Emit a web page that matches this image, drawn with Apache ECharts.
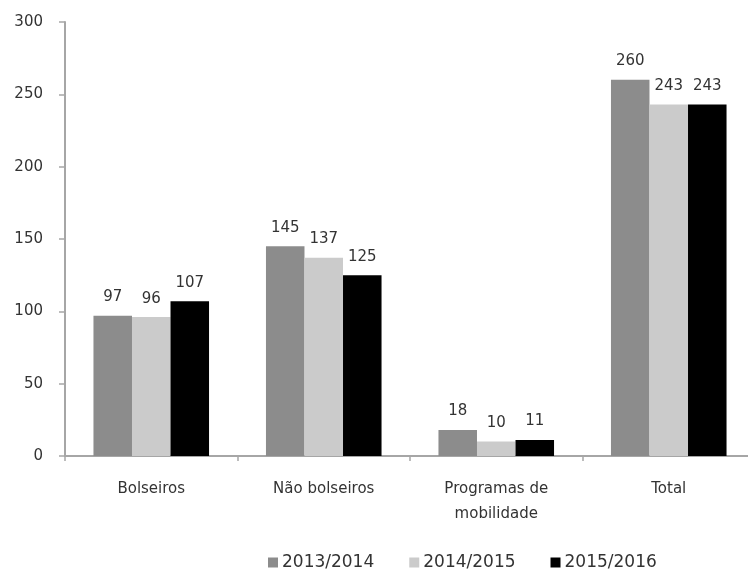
<!DOCTYPE html>
<html>
<head>
<meta charset="utf-8">
<script src="https://cdn.jsdelivr.net/npm/echarts@6/dist/echarts.min.js"></script>
<style>html,body{margin:0;padding:0;background:#fff;overflow:hidden;width:748px;height:571px;}#c{width:755px;height:571px;}</style>
</head>
<body>
<div id="c"></div>
<script>
const categories = ['Bolseiros', 'Não bolseiros', 'Programas de\nmobilidade', 'Total'];
const seriesNames = ['2013/2014', '2014/2015', '2015/2016'];
const s2013 = [97, 145, 18, 260];
const s2014 = [96, 137, 10, 243];
const s2015 = [107, 125, 11, 243];
const yTicks = [0, 50, 100, 150, 200, 250, 300];

const colors = ['#8c8c8c', '#cbcbcb', '#000000'];
const font = 'DejaVu Sans';
const textColor = '#333333';
const axisColor = '#a6a6a6';

const chart = echarts.init(document.getElementById('c'));
const data = [s2013, s2014, s2015];
chart.setOption({
  animation: false,
  grid: { left: 65, top: 22, right: 0, bottom: 115, containLabel: false },
  legend: {
    top: 549, left: 263,
    itemWidth: 10, itemHeight: 10, itemGap: 35,
    icon: 'rect',
    textStyle: { fontFamily: font, fontSize: 17, color: textColor, padding: [0, 0, 0, -1] },
    data: seriesNames
  },
  xAxis: {
    type: 'category', data: categories,
    axisLine: { lineStyle: { color: axisColor, width: 2 } },
    axisTick: { show: true, length: 5, lineStyle: { color: axisColor, width: 1.5 } },
    axisLabel: { fontFamily: font, fontSize: 15, color: textColor, margin: 21, lineHeight: 25 }
  },
  yAxis: {
    type: 'value', min: yTicks[0], max: yTicks[yTicks.length - 1], interval: 50,
    axisLine: { show: true, lineStyle: { color: axisColor, width: 2 } },
    axisTick: { show: true, length: 6, lineStyle: { color: axisColor, width: 1.5 } },
    splitLine: { show: false },
    axisLabel: { fontFamily: font, fontSize: 15, color: textColor, margin: 22 }
  },
  series: seriesNames.map((n, i) => ({
    name: n, type: 'bar', data: data[i],
    barGap: '0%', barCategoryGap: '33%',
    itemStyle: { color: colors[i] },
    label: { show: true, position: 'top', distance: 11, fontFamily: font, fontSize: 15, color: textColor }
  }))
});
</script>
</body>
</html>
